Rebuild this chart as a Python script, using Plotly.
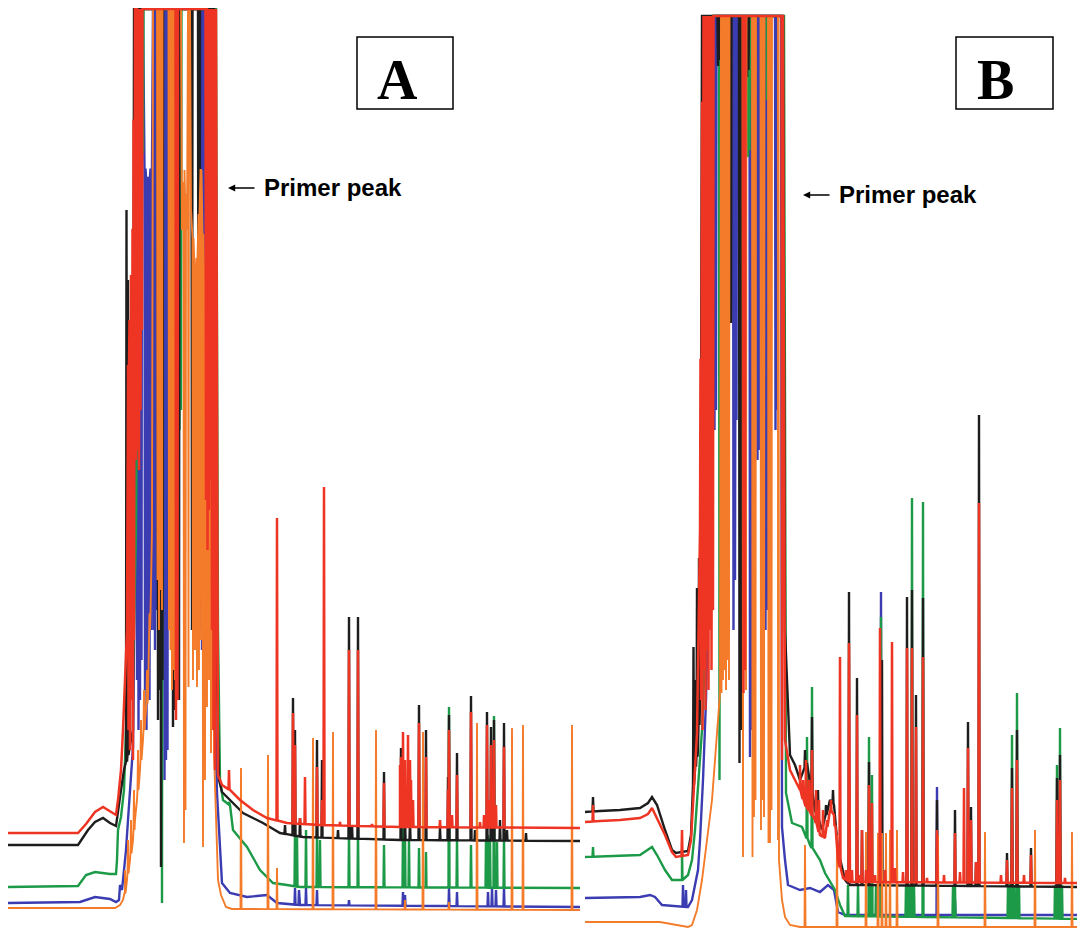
import numpy as np
import plotly.graph_objects as go

# ---------------- data (scan index, signal units; signal saturates at the top) ----------------
# Panel A
A_red_base = [(8,97),(78,97),(86,106),(95,118),(103,123),(110,119),(116,115),(118,130),(121,160),(123,200),
              (127,300),(128,550),(133,700),(135,921),(216,921),(218,155),(222,145),(230,140),(240,130),
              (253,120),(267,112),(287,107),(320,105),(400,103),(580,102)]
A_red_band = [(128.5,200),(130,180),(131.5,230),(133,170),(134,290),(136,470),(137.5,480),(139,460),(140.5,520),
              (142,600),(176,210),(177.5,230),(206,430),(207.5,380),(209,420),(210.5,450),(212,300),(213.5,200),
              (215,160)]
A_red_peaks = [(229,160),(277,412),(293,217),(295,185),(300,112),(305,153),(317,163),(322,130),(324,443),(340,108),
               (349,280),(358,280),(372,106),(384,147),(400,165),(401,173),(403,198),(405,170),(408,195),(410,170),
               (411,150),(413,130),(419,207),(426,173),(440,110),(448,140),(449,200),(452,115),(457,155),(471,218),
               (480,108),(484,115),(487,205),(489,130),(491,185),(494,190),(496,125),(504,183)]

A_black_base = [(8,85),(78,85),(88,100),(95,108),(103,112),(110,107),(116,104),(118,120),(121,140),(124,160),
                (127,170),(130,185),(133,200),(134,921),(214,921),(216,300),(219,150),(222,138),(230,130),
                (243,117),(263,107),(280,97),(303,93),(400,90),(580,89)]
A_black_band = [(126.5,720),(128,650),(158,210),(159.5,240),(161,63),(162.5,250),(173,203),(174.5,220),(179,230),
                (192,300),(198.5,350),(199.5,320)]
A_black_peaks = [(285,105),(293,232),(295,200),(300,112),(317,190),(322,170),(338,100),(349,313),(352,105),(358,313),
                 (384,158),(401,182),(405,115),(410,110),(419,225),(426,200),(440,102),(448,153),(449,215),(457,177),
                 (471,234),(475,100),(487,218),(491,203),(494,210),(500,110),(504,207),(507,100),(526,97)]

A_green_base = [(8,43),(78,44),(86,55),(95,58),(110,56),(116,56),(117,70),(118,100),(121,113),(124,140),(126,200),
                (129,240),(133,257),(136,400),(140,921),(216,921),(218,300),(220,150),(223,130),(230,125),(233,100),
                (247,83),(260,60),(273,47),(287,45),(300,43),(580,42)]
A_green_band = [(143,777),(162,27),(179.5,500),(181,520),(215,717)]
A_green_peaks = [(229,128),(295,100),(297,95),(306,100),(317,100),(320,90),(349,100),(358,100),(384,85),(403,103),
                 (405,95),(409,90),(419,82),(426,78),(449,223),(457,92),(471,85),(486,90),(488,95),(490,92),
                 (494,214),(497,88),(504,92)]

A_blue_base = [(8,27),(80,28),(95,33),(110,31),(116,28),(119,30),(120,45),(122,40),(124,60),(126,80),(128,110),
               (130,140),(133,183),(135,400),(136,921),(143,921),(144,767),(148,745),(152,767),(153,921),(206,921),
               (209,500),(213,300),(217,137),(220,83),(222,47),(230,37),(247,33),(267,35),(277,27),(300,25),(580,23)]
A_blue_band = [(137,250),(138.5,200),(140,230),(141.5,270),(145,240),(146.5,200),(148,260),(149.5,230),(151,300),
               (153.5,300),(155,280),(156.5,320),(164.5,150),(166,170),(167.5,180),(200.5,300),(202,280),(203.5,320)]
A_blue_peaks = [(295,42),(299,40),(306,42),(317,40),(349,30),(403,38),(405,35),(449,42),(457,38),(488,38),
                (492,42),(496,40),(504,42)]

A_orange_base = [(8,22),(115,22),(120,25),(123,30),(125,37),(127,50),(130,70),(133,90),(135,110),(137,130),
                 (140,160),(143,190),(146,220),(148,233),(152,400),(153,921),(181,921),(182,700),(184.5,760),
                 (187,700),(188,921),(190,921),(191,720),(196,650),(201,760),(206,600),(213,650),(214,177),(216,100),
                 (218,50),(221,35),(226,23),(232,21),(580,20)]
A_orange_band = [(125,60),(128,90),(131,110),(134,140),(138,180),(141,210),(144,240),(147,260),(150,300),
                 (157.5,350),(159,300),(160.5,340),(162,320),(169,300),(170.5,280),(172,240),(173.5,260),(175,250),
                 (184,87),(185.5,120),(188.5,243),(193,250),(195,280),(197,243),(199,260),(201,290),(203,83),
                 (205,150),(207,223),(209,250),(211,177),(212.5,200)]
A_orange_peaks = [(241,162),(268,175),(277,62),(313,192),(333,198),(376,200),(405,30),(423,198),(449,28),
                  (477,207),(512,202),(523,205),(572,205)]

# Panel B
B_red_base = [(585,108),(600,109),(620,110),(640,112),(648,116),(652,122),(657,112),(665,95),(672,78),(676,73),
              (688,75),(691,90),(693,130),(695,170),(697,197),(700,400),(703,914),(783,914),(785,190),(790,160),
              (795,150),(800,140),(805,125),(810,118),(815,110),(820,95),(825,92),(830,120),(834,115),(838,70),
              (843,52),(850,48),(1085,47)]
B_red_band = [(593,125),(682,100),(701,230),(702.5,200),(704,260),(705.5,220),(707,280),(708.5,240),(710,300),
              (711.5,260),(713,320),(743.5,237),(745,260),(782,170)]
B_red_peaks = [(800,165),(803,150),(806,170),(809,150),(812,180),(816,140),(819,130),(823,120),(827,110),(831,130),
               (835,105),(840,273),(846,60),(849,287),(852,60),(857,215),(860,55),(862,100),(866,60),(869,145),
               (872,127),(875,55),(880,302),(885,60),(892,288),(895,62),(903,58),(907,282),(912,282),(916,203),
               (923,273),(927,52),(937,100),(944,55),(955,97),(960,58),(964,142),(968,182),(971,110),(976,68),
               (979,427),(1001,55),(1007,70),(1012,142),(1017,170),(1024,55),(1031,75),(1057,130),(1058,80),
               (1060,150),(1065,52)]

B_black_base = [(585,118),(600,119),(620,120),(640,122),(648,127),(652,133),(657,125),(665,100),(672,80),(676,77),
                (688,79),(691,95),(693,140),(695,160),(698,180),(700,230),(701,500),(702,914),(783,914),(784,600),
                (785,300),(787,250),(790,175),(795,165),(800,150),(807,167),(815,120),(822,100),(830,130),(834,125),
                (838,80),(845,50),(850,45),(1085,43)]
B_black_band = [(593,133),(693.5,283),(695.5,250),(697,342),(699,372),(718,864),(719,870),(731,607),(739.5,167),
                (741,200),(747,853),(748.5,860)]
B_black_peaks = [(805,180),(812,213),(818,140),(826,125),(833,140),(849,338),(857,252),(862,100),(869,168),(882,270),
                 (907,333),(912,340),(916,235),(923,332),(937,130),(955,120),(968,208),(971,123),(976,68),(979,515),
                 (1007,77),(1012,162),(1017,200),(1031,82),(1057,152),(1060,175)]

B_green_base = [(585,73),(640,75),(648,80),(652,83),(657,75),(665,60),(672,50),(682,50),(688,55),(692,70),(695,100),
                (698,140),(702,200),(706,300),(710,500),(713,914),(784,914),(786,137),(792,107),(802,103),(810,85),
                (820,70),(825,57),(835,40),(840,25),(845,14),(1085,11)]
B_green_band = [(593,83),(682,80),(719.5,150),(748,773),(749.5,780),(767,830)]
B_green_peaks = [(807,193),(812,243),(848,45),(858,45),(869,193),(872,155),(876,45),(881,313),(906,45),(908,48),
                 (910,45),(912,432),(914,45),(923,428),(953,45),(955,45),(1008,45),(1010,48),(1012,195),(1014,45),
                 (1017,237),(1019,45),(1055,45),(1057,165),(1060,202),(1062,45)]

B_blue_base = [(585,32),(640,33),(650,35),(655,33),(662,25),(688,23),(692,30),(695,45),(698,60),(700,90),(703,150),
               (706,230),(709,350),(712,500),(714,914),(781,914),(782,103),(785,70),(788,45),(800,40),(810,42),
               (820,38),(828,45),(834,40),(838,18),(845,15),(1085,15)]
B_blue_band = [(683,45),(686,40),(714.5,500),(716,520),(733.5,300),(735,350),(736.5,510),(750,173),(751.5,200),
               (757.5,470),(759,480),(765.5,300),(767,320),(775.5,500),(777,520)]
B_blue_peaks = [(870,25),(881,338),(910,25),(937,143),(955,30),(1012,25),(1058,22)]

B_orange_base = [(585,8),(660,8),(688,3),(692,5),(697,20),(702,50),(707,90),(712,130),(715,170),(718,210),(720,237),
                 (721,914),(778,914),(779,70),(782,30),(785,13),(790,5),(800,3),(1085,3)]
B_orange_band = [(721.5,237),(723,250),(724.5,260),(726,240),(727.5,270),(729,250),(743,73),(744.5,260),(746,240),
                 (752.5,73),(754,113),(755.5,130),(761,100),(762.5,130),(764,113),(768.5,87),(770,87),(771.5,120),
                 (778,90)]
B_orange_peaks = [(805,85),(837,95),(866,98),(878,97),(882,97),(886,97),(890,100),(897,100),(938,95),(985,98),
                  (1035,100),(1072,98),(1082,100)]

PANEL_LABELS = ["A", "B"]
ANNOTATION_TEXT = "Primer peak"

COLORS = {"blue": "#3b3cb2", "green": "#1c9a47", "black": "#1d1d1d", "orange": "#f47b2a", "red": "#ee3524"}
WIDTHS = {"blue": 2.4, "green": 2.4, "black": 2.4, "orange": 1.9, "red": 2.5}
ORDER = ["blue", "green", "black", "orange", "red"]

PANELS = {
    "A": {"red": (A_red_base, A_red_band + A_red_peaks), "black": (A_black_base, A_black_band + A_black_peaks),
          "green": (A_green_base, A_green_band + A_green_peaks), "blue": (A_blue_base, A_blue_band + A_blue_peaks),
          "orange": (A_orange_base, A_orange_band + A_orange_peaks)},
    "B": {"red": (B_red_base, B_red_band + B_red_peaks), "black": (B_black_base, B_black_band + B_black_peaks),
          "green": (B_green_base, B_green_band + B_green_peaks), "blue": (B_blue_base, B_blue_band + B_blue_peaks),
          "orange": (B_orange_base, B_orange_band + B_orange_peaks)},
}


def trace_xy(base, spikes, w=0.5):
    bx = np.array([p[0] for p in base], dtype=float)
    by = np.array([p[1] for p in base], dtype=float)
    pts = [(float(x), float(y)) for x, y in base]
    for x, y in spikes:
        foot = float(np.interp(x, bx, by))
        pts += [(x - w, foot), (float(x), float(y)), (x + w, foot)]
    pts.sort(key=lambda p: p[0])
    return [p[0] for p in pts], [p[1] for p in pts]


# The page body keeps an 8px margin, so the figure is 8px smaller and starts at 8px.
OFF = 8
W, H = 1085 - OFF, 932 - OFF
SPLIT = 582.5

fig = go.Figure()
for panel, xa in (("A", "x"), ("B", "x2")):
    for col in ORDER:
        base, spikes = PANELS[panel][col]
        xs, ys = trace_xy(base, spikes)
        fig.add_trace(go.Scatter(x=xs, y=ys, mode="lines", xaxis=xa, yaxis="y",
                                 line=dict(color=COLORS[col], width=WIDTHS[col]),
                                 hoverinfo="skip", showlegend=False))

ax_common = dict(visible=False, showgrid=False, zeroline=False, fixedrange=True)
fig.update_layout(
    width=W, height=H, margin=dict(l=0, r=0, t=0, b=0),
    paper_bgcolor="white", plot_bgcolor="white",
    xaxis=dict(domain=[0, (SPLIT - OFF) / W], range=[OFF, SPLIT], **ax_common),
    xaxis2=dict(domain=[(SPLIT - OFF) / W, 1], range=[SPLIT, 1085], anchor="y", **ax_common),
    yaxis=dict(range=[-2, 930 - OFF], **ax_common),
)


def px(x):
    return (x - OFF) / W


def py(y):
    return 1 - (y - OFF) / H


# labelled boxes
for (x0, x1, cx, label) in ((357, 453, 397, "A"), (956, 1053, 995, "B")):
    fig.add_shape(type="rect", xref="paper", yref="paper", x0=px(x0), x1=px(x1), y0=py(109), y1=py(37),
                  line=dict(color="black", width=1.5), fillcolor="rgba(0,0,0,0)")
    fig.add_annotation(xref="paper", yref="paper", x=px(cx), y=py(80), text="<b>%s</b>" % label,
                       showarrow=False, xanchor="center", yanchor="middle",
                       font=dict(family="Liberation Serif, Times New Roman, serif", size=56, color="black"))

# primer peak labels with arrows
for (ax0, tx, ty) in ((228, 262, 188), (803, 837, 195)):
    fig.add_annotation(xref="paper", yref="paper", x=px(ax0), y=py(ty), text="", showarrow=True,
                       ax=28, ay=0, arrowhead=2, arrowsize=0.9, arrowwidth=1.6, arrowcolor="black")
    fig.add_annotation(xref="paper", yref="paper", x=px(tx), y=py(ty), text="<b>%s</b>" % ANNOTATION_TEXT,
                       showarrow=False, xanchor="left", yanchor="middle",
                       font=dict(family="Liberation Sans, Arial, sans-serif", size=24, color="black"))

fig.write_html("out.html")
